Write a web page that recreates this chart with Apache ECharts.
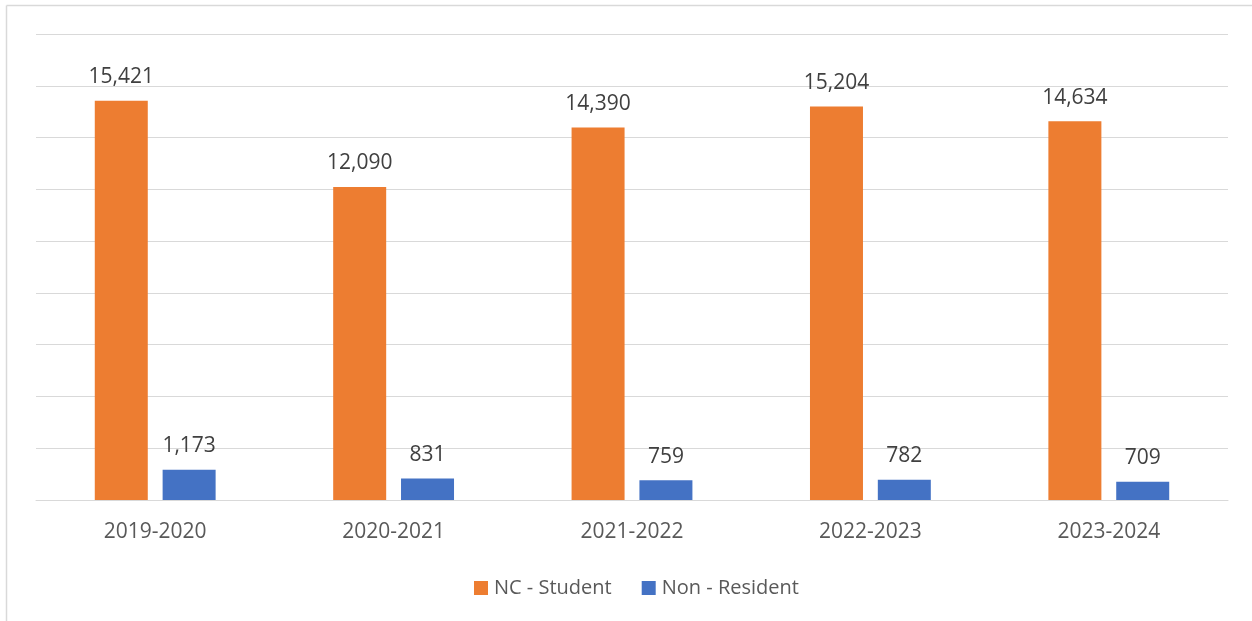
<!DOCTYPE html>
<html>
<head>
<meta charset="utf-8">
<script src="https://cdn.jsdelivr.net/npm/echarts@6/dist/echarts.min.js"></script>
<style>
html,body{margin:0;padding:0;background:#fff;}
#c{width:1252px;height:621px;}
</style>
</head>
<body>
<div id="c"></div>
<script>
const categories = ['2019-2020','2020-2021','2021-2022','2022-2023','2023-2024'];
const ncStudent = [15421,12090,14390,15204,14634];
const nonResident = [1173,831,759,782,709];
const seriesNames = ['NC - Student','Non - Resident'];

const chart = echarts.init(document.getElementById('c'), null, {renderer:'canvas'});
const FONT = '"Open Sans", "Noto Sans", sans-serif';
const labelFmt = p => p.value.toLocaleString('en-US');
chart.setOption({
  animation:false,
  backgroundColor:'#ffffff',
  grid:{left:36,right:24,top:34,bottom:121,containLabel:false},
  xAxis:{
    type:'category',
    data:categories,
    axisLine:{show:true,lineStyle:{color:'#d9d9d9',width:1}},
    axisTick:{show:false},
    axisLabel:{color:'#595959',fontSize:21,fontFamily:FONT,margin:22}
  },
  yAxis:{
    type:'value',min:0,max:18000,interval:2000,
    axisLabel:{show:false},axisLine:{show:false},axisTick:{show:false},
    splitLine:{lineStyle:{color:'#d9d9d9',width:1}}
  },
  legend:{
    data:seriesNames,
    left:469,top:573,
    itemWidth:14,itemHeight:14,itemGap:30,
    icon:'rect',
    textStyle:{color:'#595959',fontSize:20,fontFamily:FONT,padding:[0,0,0,1]}
  },
  series:[
    {name:seriesNames[0],type:'bar',data:ncStudent,barWidth:53,barGap:'28%',
     itemStyle:{color:'#ED7D31'},
     label:{show:true,position:'top',distance:13,color:'#404040',fontSize:21,fontFamily:FONT,formatter:labelFmt}},
    {name:seriesNames[1],type:'bar',data:nonResident,barWidth:53,
     itemStyle:{color:'#4472C4'},
     label:{show:true,position:'top',distance:13,color:'#404040',fontSize:21,fontFamily:FONT,formatter:labelFmt}}
  ],
  graphic:[
    {type:'line',shape:{x1:6.5,y1:5.5,x2:6.5,y2:621},style:{stroke:'#d9d9d9',lineWidth:1.5}},
    {type:'line',shape:{x1:6.5,y1:5.5,x2:1252,y2:5.5},style:{stroke:'#d9d9d9',lineWidth:1.5}}
  ]
});
</script>
</body>
</html>
